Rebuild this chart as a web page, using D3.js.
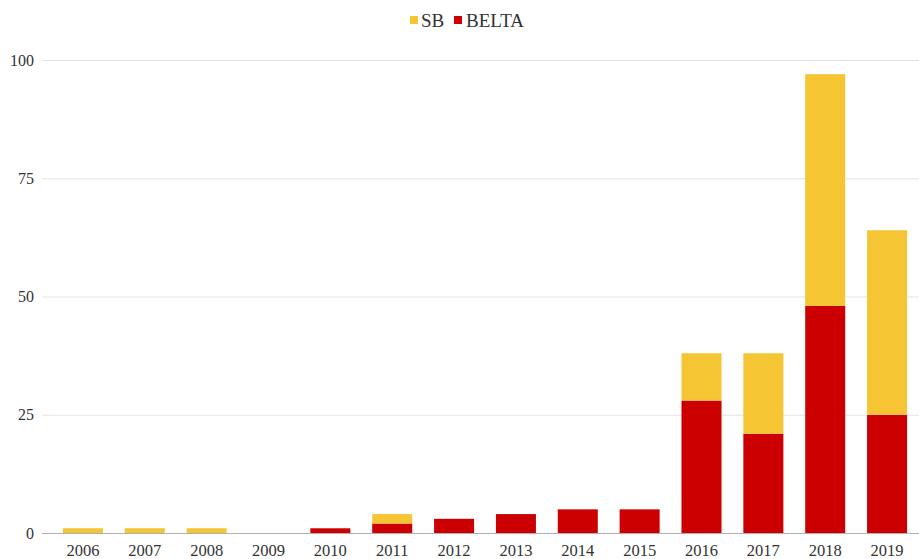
<!DOCTYPE html>
<html lang="en">
<head>
    <meta charset="UTF-8">
    <script src="https://cdn.jsdelivr.net/npm/d3@7"></script>
    <title>SB / BELTA</title>
    <style>
        body { margin: 0; background: #fff; }
        text { font-family: 'Liberation Serif', 'DejaVu Serif', serif; fill: #333; }
        .grid line { stroke: #e3e3e3; stroke-width: 1px; }
        .grid path { display: none; }
    </style>
</head>
<body>
<div id="chart"></div>
<script>
    // data
    const years = ["2006", "2007", "2008", "2009", "2010", "2011", "2012",
                   "2013", "2014", "2015", "2016", "2017", "2018", "2019"];
    const belta = [0, 0, 0, 0, 1, 2, 3, 4, 5, 5, 28, 21, 48, 25];
    const sb    = [1, 1, 1, 0, 0, 2, 0, 0, 0, 0, 10, 17, 49, 39];
    const yTicks = [0, 25, 50, 75, 100];

    const seriesNames = ["BELTA", "SB"];
    const colors = { "SB": "#f5c533", "BELTA": "#cc0000" };

    const width = 919, height = 559;

    const rows = years.map((y, i) => ({ year: y, BELTA: belta[i], SB: sb[i] }));
    const stacked = d3.stack().keys(seriesNames)(rows);

    const svg = d3.select("#chart").append("svg")
        .attr("width", width)
        .attr("height", height);

    const x = d3.scaleBand()
        .domain(years)
        .range([52, 918])
        .paddingInner(0.353)
        .paddingOuter(0.1765);

    const y = d3.scaleLinear()
        .domain([0, 100])
        .range([533, 60]);

    // gridlines
    svg.append("g")
        .attr("class", "grid")
        .attr("transform", "translate(42,0)")
        .call(d3.axisLeft(y).tickValues(yTicks).tickSize(-(width - 42)).tickFormat(""));

    // y labels
    svg.append("g")
        .selectAll("text")
        .data(yTicks)
        .enter()
        .append("text")
        .attr("x", 34)
        .attr("y", d => y(d))
        .attr("dy", "0.35em")
        .attr("text-anchor", "end")
        .style("font-size", "16px")
        .text(d => d);

    // bars
    svg.append("g")
        .selectAll("g")
        .data(stacked)
        .enter()
        .append("g")
        .attr("fill", d => colors[d.key])
        .selectAll("rect")
        .data(d => d)
        .enter()
        .append("rect")
        .attr("x", d => x(d.data.year))
        .attr("width", x.bandwidth())
        .attr("y", d => y(d[1]))
        .attr("height", d => y(d[0]) - y(d[1]));

    // zero line
    svg.append("line")
        .attr("x1", 42)
        .attr("x2", width)
        .attr("y1", y(0) + 0.5)
        .attr("y2", y(0) + 0.5)
        .attr("stroke", "#b0b0b0")
        .attr("stroke-width", 1);

    // x labels
    svg.append("g")
        .selectAll("text")
        .data(years)
        .enter()
        .append("text")
        .attr("x", d => x(d) + x.bandwidth() / 2)
        .attr("y", 550)
        .attr("dy", "0.35em")
        .attr("text-anchor", "middle")
        .style("font-size", "16.5px")
        .text(d => d);

    // legend
    const legendItems = [
        { name: "SB", x: 410, tx: 421 },
        { name: "BELTA", x: 454, tx: 466 }
    ];
    const legend = svg.append("g");
    legend.selectAll("rect")
        .data(legendItems)
        .enter()
        .append("rect")
        .attr("x", d => d.x)
        .attr("y", 16)
        .attr("width", 8)
        .attr("height", 8)
        .attr("fill", d => colors[d.name]);
    legend.selectAll("text")
        .data(legendItems)
        .enter()
        .append("text")
        .attr("x", d => d.tx)
        .attr("y", 20)
        .attr("dy", "0.35em")
        .style("font-size", "19px")
        .text(d => d.name);
</script>
</body>
</html>
